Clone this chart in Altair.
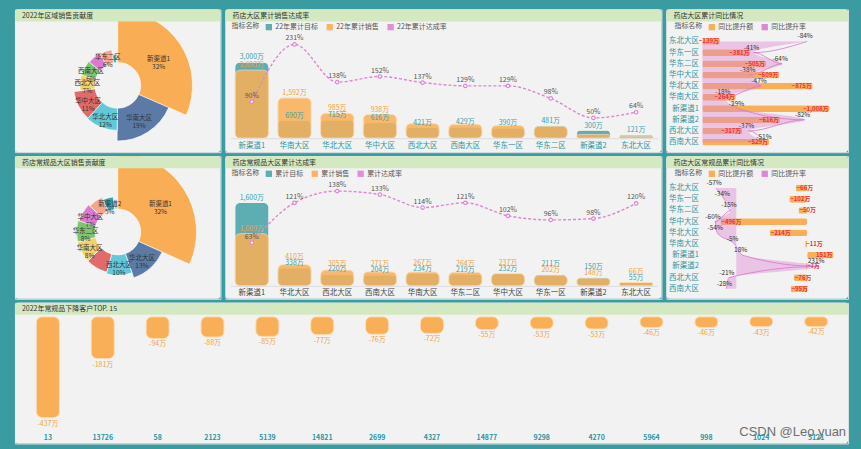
import altair as alt
import pandas as pd

FONT = "Noto Sans CJK SC"
BG = "#3a9ba1"
PANEL = "#f2f2f2"
HEADER = "#d4e9c1"
ORANGE = "#f9af58"
TEAL = "#4fa8ae"
PINK = "#de86d3"
PINK_LINE = "#d777cb"
RED = "#ee2f3a"
AXIS_TEAL = "#2b95a0"

# 药店大区累计销售（万）
region_cats = ["新渠道1", "华南大区", "华北大区", "华中大区", "西北大区",
               "西南大区", "华东一区", "华东二区", "新渠道2", "东北大区"]
region_target = [3000, 690, 715, 616, 421, 429, 390, 481, 300, 121]
region_sales = [2693, 1592, 985, 938, 577, 553, 503, 471, 150, 77]
region_rate = [90, 231, 138, 152, 137, 129, 129, 98, 50, 64]

# 药店常规品大区累计（万）
regular_cats = ["新渠道1", "华北大区", "西北大区", "西南大区", "华南大区",
                "华东二区", "华中大区", "华东一区", "新渠道2", "东北大区"]
regular_target = [1600, 338, 220, 204, 234, 219, 232, 211, 150, 55]
regular_sales = [1009, 410, 305, 271, 267, 264, 237, 202, 148, 66]
regular_rate = [63, 121, 138, 133, 114, 121, 102, 96, 98, 120]

# 同比情况
yoy_cats = ["东北大区", "华东一区", "华东二区", "华中大区", "华北大区",
            "华南大区", "新渠道1", "新渠道2", "西北大区", "西南大区"]
yoy_amount = [-139, -381, -505, -609, -875, -264, -1008, -616, -317, -529]
yoy_rate = [-84, -41, -64, -38, -47, -18, -29, -82, -37, -51]
regular_yoy_amount = [-66, -102, -50, -496, -214, -11, 151, -7, -76, -95]
regular_yoy_rate = [-57, -34, -15, -60, -54, -5, 18, 231, -21, -28]

# 常规品下降客户 TOP 15
customers = ["13", "13726", "58", "2123", "5139", "14821", "2699", "4327",
             "14877", "9298", "4270", "5964", "998", "1024", "5121"]
customer_drop = [-437, -181, -94, -88, -85, -77, -76, -72, -55, -53, -53,
                 -46, -46, -43, -42]

pie_colors = ["#f9ae55", "#5b7ba6", "#62c9d9", "#e16b6b", "#f0d56e",
              "#7fc56f", "#d97bce", "#f6a68e", "#35a4a4", "#9fd3f0"]

INDEPENDENT = dict(color="independent", theta="independent", radius="independent")


def panel_bg(width, height):
    return alt.Chart(pd.DataFrame({"t": [0]})).mark_rect(
        color=PANEL, cornerRadius=3
    ).encode(x=alt.value(0), x2=alt.value(width), y=alt.value(0), y2=alt.value(height))


def header(title, width):
    df = pd.DataFrame({"t": [title]})
    strip = alt.Chart(df).mark_rect(
        color=HEADER, cornerRadiusTopLeft=3, cornerRadiusTopRight=3
    ).encode(x=alt.value(0), x2=alt.value(width), y=alt.value(0), y2=alt.value(12))
    text = alt.Chart(df).mark_text(
        align="left", baseline="middle", fontSize=7, color="#333333", font=FONT
    ).encode(x=alt.value(7), y=alt.value(6.5), text="t:N")
    return [strip, text]


def legend_def(x, y):
    return alt.Legend(
        orient="none", legendX=x, legendY=y, direction="horizontal",
        title="指标名称", titleOrient="left", titleFontSize=7,
        titleFontWeight="normal", titleColor="#555555", titleFont=FONT,
        titlePadding=6, labelFont=FONT, labelFontSize=7, labelColor="#555555",
        symbolType="square", symbolSize=40, symbolStrokeWidth=0,
        columnPadding=8, labelOffset=3, padding=0, zindex=2,
    )


def pie_panel(title, names, values, hidden, r_max, width=206, height=143):
    df = pd.DataFrame({"name": names, "value": values, "rank": list(range(len(names)))})
    hidden_list = "[" + ",".join(f"'{h}'" for h in hidden) + "]"
    base = alt.Chart(df).transform_joinaggregate(total="sum(value)").transform_calculate(
        label=f"indexof({hidden_list}, datum.name) >= 0 ? '' : "
              "datum.name + '\\n' + round(datum.value / datum.total * 100) + '%'"
    )
    vmax = max(values)
    arcs = base.mark_arc(radius2=23, stroke="#ffffff", strokeWidth=0.6, clip=True).encode(
        theta=alt.Theta("value:Q", stack=True),
        radius=alt.Radius("value:Q", scale=alt.Scale(type="linear", domain=[0, vmax],
                                                      range=[28, r_max], nice=False)),
        color=alt.Color("name:N", scale=alt.Scale(domain=names, range=pie_colors), legend=None),
        order=alt.Order("rank:Q", sort="ascending"),
        x=alt.value(103), y=alt.value(76),
    )
    labels = base.mark_text(
        fontSize=6.5, lineBreak="\n", lineHeight=8, color="#333333", font=FONT
    ).encode(
        theta=alt.Theta("value:Q", stack=True),
        radius=alt.Radius("value:Q", scale=alt.Scale(type="linear", domain=[0, vmax],
                                                      range=[25.5, (23 + r_max) / 2], nice=False)),
        order=alt.Order("rank:Q", sort="ascending"),
        text="label:N",
        x=alt.value(103), y=alt.value(76),
    )
    return alt.layer(panel_bg(width, height), arcs, labels, *header(title, width)).resolve_scale(
        radius="independent"
    ).properties(width=width, height=height)


def target_panel(title, legend_names, cats, target, sales, rate, bar_max, bar_top,
                 rate_max, rate_top, baseline, axis_color, gap, hide_close,
                 width=437, height=143):
    df = pd.DataFrame({"cat": cats, "target": target, "sales": sales, "rate": rate})
    base = alt.Chart(df).transform_calculate(
        target_label="format(datum.target, ',') + '万'",
        sales_label="format(datum.sales, ',') + '万'",
        rate_label="datum.rate + '%'",
        upper=f"max(max(datum.target, datum.sales), min(datum.target, datum.sales) + {gap})",
        target_pos="datum.target >= datum.sales ? datum.upper : datum.target",
        sales_pos="datum.sales > datum.target ? datum.upper : datum.sales",
        s_target=f"'{legend_names[0]}'",
        s_sales=f"'{legend_names[1]}'",
    )
    x = alt.X("cat:N", sort=cats,
              scale=alt.Scale(range=[5, 433], paddingInner=0.22, paddingOuter=0.11),
              axis=alt.Axis(orient="bottom", offset=baseline - height, labelPadding=3,
                            ticks=False, domainColor="#dddddd", labelColor=axis_color,
                            labelFontSize=7.5, labelFont=FONT, title=None, labelAngle=0,
                            grid=False, zindex=1))
    ybar = alt.Scale(domain=[0, bar_max], range=[baseline, bar_top], nice=False)
    yrate = alt.Scale(domain=[0, rate_max], range=[baseline, rate_top], nice=False)
    cscale = alt.Scale(domain=legend_names, range=[TEAL, ORANGE, PINK])
    leg = legend_def(6, 14)

    target_bar = base.mark_bar(cornerRadius=5, opacity=0.92).encode(
        x=x, y=alt.Y("target:Q", scale=ybar, axis=None),
        color=alt.Color("s_target:N", scale=cscale, legend=leg),
    )
    sales_bar = base.mark_bar(cornerRadius=5, opacity=0.85, stroke="#fcd6a4",
                              strokeWidth=0.8).encode(
        x=x, y=alt.Y("sales:Q", scale=ybar, axis=None),
        color=alt.Color("s_sales:N", scale=cscale, legend=leg),
    )
    line = base.mark_line(interpolate="monotone", strokeDash=[3, 2], strokeWidth=1.4,
                          color=PINK).encode(
        x=x, y=alt.Y("rate:Q", scale=yrate, axis=None))
    points = base.mark_point(shape="circle", size=12, stroke=PINK, strokeWidth=1.2,
                             fill="#ffffff", fillOpacity=1, opacity=1).encode(
        x=x, y=alt.Y("rate:Q", scale=yrate, axis=None))
    rate_text = base.mark_text(fontSize=7, color="#555555", dy=-6, font=FONT).encode(
        x=x, y=alt.Y("rate:Q", scale=yrate, axis=None), text="rate_label:N")
    t_text = base.mark_text(fontSize=7, color="#3a9fa8", dy=-2, baseline="bottom",
                            font=FONT).encode(
        x=x, y=alt.Y("target_pos:Q", scale=ybar, axis=None), text="target_label:N")
    s_src = base.transform_filter(f"abs(datum.sales - datum.target) > {hide_close}")
    s_text = s_src.mark_text(fontSize=7, color="#f0a03c", dy=-2, baseline="bottom",
                             font=FONT).encode(
        x=x, y=alt.Y("sales_pos:Q", scale=ybar, axis=None), text="sales_label:N")

    return alt.layer(
        panel_bg(width, height), target_bar, sales_bar, line, points, t_text, s_text,
        rate_text, *header(title, width)
    ).resolve_scale(y="independent").properties(width=width, height=height)


def yoy_panel(title, cats, amount, rate, amt_domain, amt_range, rate_domain, rate_range,
              right_sign, width=182, height=143):
    df = pd.DataFrame({"cat": cats, "amount": amount, "rate": rate})
    base = alt.Chart(df).transform_calculate(
        amount_label="format(datum.amount, ',') + '万'",
        rate_label="datum.rate + '%'",
        series="'同比提升额'",
    )
    y = alt.Y("cat:N", sort=cats,
              scale=alt.Scale(range=[26.4, 138.6], paddingInner=0.4, paddingOuter=0.2),
              axis=alt.Axis(orient="left", offset=-34, labelPadding=2, ticks=False,
                            domain=False, labelColor=AXIS_TEAL, labelFontSize=7.5,
                            labelFont=FONT, title=None, grid=False, zindex=1))
    xa = alt.X("amount:Q", scale=alt.Scale(domain=amt_domain, range=amt_range, nice=False,
                                           zero=False), axis=None)
    xr = alt.X("rate:Q", scale=alt.Scale(domain=rate_domain, range=rate_range, nice=False,
                                         zero=False), axis=None)
    cscale = alt.Scale(domain=["同比提升额", "同比提升率"], range=[ORANGE, PINK])

    bars = base.mark_bar(cornerRadius=2).encode(
        x=xa, y=y,
        color=alt.Color("series:N", scale=cscale, legend=legend_def(8, 14)),
    )
    area = base.mark_area(interpolate="monotone", color=PINK, fillOpacity=0.42,
                          line={"color": PINK_LINE, "strokeWidth": 0.8}).encode(x=xr, y=y)
    right_lbl = base.transform_filter(f"datum.amount * {right_sign} > 0").mark_text(
        align="right", dx=-1, fontSize=6, color=RED, fontWeight="bold", font=FONT
    ).encode(x=xa, y=y, text="amount_label:N")
    left_lbl = base.transform_filter(f"datum.amount * {right_sign} <= 0").mark_text(
        align="left", dx=1, fontSize=6, color=RED, fontWeight="bold", font=FONT
    ).encode(x=xa, y=y, text="amount_label:N")
    rate_lbl = base.mark_text(fontSize=6.5, color="#333333", dy=-5, dx=-2, font=FONT).encode(
        x=xr, y=y, text="rate_label:N")

    return alt.layer(
        panel_bg(width, height), bars, area, right_lbl, left_lbl, rate_lbl,
        *header(title, width)
    ).resolve_scale(x="independent").properties(width=width, height=height)


def customer_panel(width=835, height=141):
    df = pd.DataFrame({"customer": customers, "drop": customer_drop})
    base = alt.Chart(df).transform_calculate(drop_label="datum.drop + '万'")
    x = alt.X("customer:N", sort=customers,
              scale=alt.Scale(range=[5.5, 830.5], paddingInner=0.58, paddingOuter=0.29),
              axis=alt.Axis(orient="bottom", offset=-12, labelPadding=2, ticks=False,
                            domain=False, labelColor=AXIS_TEAL, labelFontSize=7,
                            labelFontWeight="bold", labelFont=FONT, title=None,
                            labelAngle=0, grid=False, zindex=1))
    y = alt.Y("drop:Q", scale=alt.Scale(domain=[0, -437], range=[14, 115], nice=False,
                                        zero=False), axis=None)
    bars = base.mark_bar(cornerRadius=6, color=ORANGE, stroke="#fcd6a4",
                         strokeWidth=0.8).encode(x=x, y=y)
    labels = base.mark_text(fontSize=7, color="#f3a445", baseline="top", dy=2,
                            font=FONT).encode(x=x, y=y, text="drop_label:N")
    mark_df = pd.DataFrame({"t": ["CSDN @Leo.yuan"]})
    stamp = alt.Chart(mark_df).mark_text(
        align="right", baseline="middle", fontSize=13, color="#6f6f6f",
        font="Liberation Sans"
    ).encode(x=alt.value(833), y=alt.value(129), text="t:N")
    return alt.layer(panel_bg(width, height), bars, labels,
                     *header("2022年常规品下降客户TOP. 15", width), stamp
                     ).properties(width=width, height=height)


p1 = pie_panel("2022年区域销售贡献度", region_cats, region_sales,
               ["华东一区", "新渠道2", "东北大区"], 75)
p2 = target_panel("药店大区累计销售达成率", ["22年累计目标", "22年累计销售", "22年累计达成率"],
                  region_cats, region_target, region_sales, region_rate,
                  3000, 53, 231, 35, 129, AXIS_TEAL, 0, 200)
p3 = yoy_panel("药店大区累计同比情况", yoy_cats, yoy_amount, yoy_rate,
               [0, -1100], [36, 175], [0, -100], [36, 161], -1)

p4 = pie_panel("药店常规品大区销售贡献度", regular_cats, regular_sales,
               ["西南大区", "华东一区", "东北大区"], 79)
p5 = target_panel("药店常规品大区累计达成率", ["累计目标", "累计销售", "累计达成率"],
                  regular_cats, regular_target, regular_sales, regular_rate,
                  1600, 47, 138, 35, 130, "#444444", 115, -1)
p6 = yoy_panel("药店大区常规品累计同比情况", yoy_cats, regular_yoy_amount, regular_yoy_rate,
               [-600, 200], [35.8, 176.1], [-100, 300], [34.5, 176.5], 1)

p7 = customer_panel()

row1 = alt.hconcat(p1, p2, p3, spacing=5, bounds="flush").resolve_scale(**INDEPENDENT)
row2 = alt.hconcat(p4, p5, p6, spacing=5, bounds="flush").resolve_scale(**INDEPENDENT)

chart = alt.vconcat(row1, row2, p7, spacing=2).resolve_scale(**INDEPENDENT).properties(
    background=BG,
    padding={"left": 14, "top": 8, "right": 12, "bottom": 6},
).configure_view(
    strokeWidth=0
).configure(font=FONT)

chart.save("out.html", embed_options={"renderer": "svg", "actions": False})
